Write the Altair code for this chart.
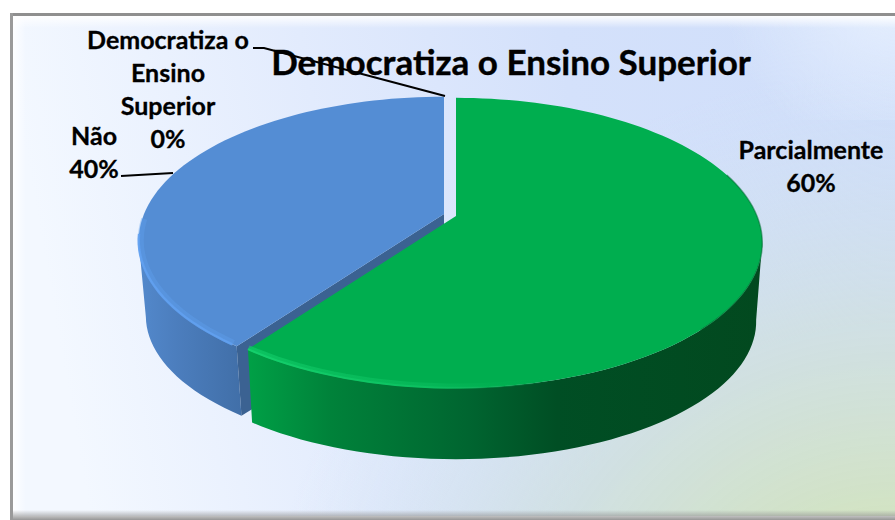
import math
import altair as alt
import pandas as pd

# Survey shares, in the order the pie is dealt clockwise from twelve o'clock
categories = ["Parcialmente", "Democratiza o Ensino Superior", "Não"]
shares = [60, 0, 40]
title_text = "Democratiza o Ensino Superior"
wrapped_names = ["Parcialmente", "Democratiza o\nEnsino\nSuperior", "Não"]

W, H = 895, 520
K = 0.185  # perspective strength of the tilted disc


def rim(deg, cx, cy, a, b):
    """Project a point of the disc's edge with a simple perspective divide."""
    t = math.radians(deg)
    d = 1 + K * math.cos(t)
    return cx + a * math.sin(t) / d, cy - b * math.cos(t) / d


def arc(start, end, disc):
    n = max(2, int(abs(end - start) / 2))
    return [rim(start + (end - start) * i / n, *disc) for i in range(n + 1)]


def path_chart(points, **mark):
    df = pd.DataFrame(points, columns=["x", "y"])
    df["v"] = range(len(df))
    return alt.Chart(df).mark_line(**mark).encode(
        x=alt.X("x:Q", scale=alt.Scale(domain=[0, W]), axis=None),
        y=alt.Y("y:Q", scale=alt.Scale(domain=[H, 0]), axis=None),
        order="v:Q",
    )


def face(points, fill):
    return path_chart(points + points[:1], fill=fill, stroke="transparent", strokeWidth=0)


def hgrad(stops):
    return alt.LinearGradient(
        gradient="linear", x1=0, x2=1, y1=0, y2=0,
        stops=[alt.GradientStop(offset=o, color=c) for o, c in stops],
    )


def vfade(a, b):
    return alt.LinearGradient(
        gradient="linear", x1=0, x2=0, y1=0, y2=1,
        stops=[alt.GradientStop(offset=0, color=a), alt.GradientStop(offset=1, color=b)],
    )


def frame_rect(x, x2, y, y2, fill):
    return alt.Chart(alt.Data(values=[{}])).mark_rect(fill=fill).encode(
        x=alt.value(x), x2=alt.value(x2), y=alt.value(y), y2=alt.value(y2)
    )


# Slice angles follow the cumulative shares
green_end = 360 * shares[0] / 100
blue_start = 360 * (shares[0] + shares[1]) / 100

# Exploded slices: upper and lower disc outlines
green_top = (456, 216, 301, 140)
green_low = (456, 296, 295, 133)
blue_top = (444, 214, 300, 139)
blue_low = (444, 291, 293, 131)
blue_inner = (444, 214, 298, 137.5)
green_inner = (456, 216, 300, 138.5)

# Backdrop
backdrop = frame_rect(10, W, 14, 516, alt.LinearGradient(
    gradient="linear", x1=0, y1=0.1, x2=1, y2=0,
    stops=[
        alt.GradientStop(offset=0, color="#f3f8ff"),
        alt.GradientStop(offset=0.33, color="#e2ebfd"),
        alt.GradientStop(offset=0.62, color="#d4e1fb"),
        alt.GradientStop(offset=1, color="#cfdefa"),
    ],
))
glow = frame_rect(10, W, 14, 516, alt.RadialGradient(
    gradient="radial", x1=1, y1=1, r1=0, x2=1, y2=1, r2=0.72,
    stops=[
        alt.GradientStop(offset=0, color="rgba(211,230,166,1)"),
        alt.GradientStop(offset=0.3, color="rgba(210,227,195,1)"),
        alt.GradientStop(offset=0.6, color="rgba(208,224,225,0.9)"),
        alt.GradientStop(offset=1, color="rgba(208,224,245,0)"),
    ],
))
corner = frame_rect(720, W, 14, 120, alt.RadialGradient(
    gradient="radial", x1=1, y1=0, r1=0, x2=1, y2=0, r2=1,
    stops=[
        alt.GradientStop(offset=0, color="rgba(235,243,255,0.9)"),
        alt.GradientStop(offset=1, color="rgba(235,243,255,0)"),
    ],
))

bevels = [
    frame_rect(10, W, 16, 28, vfade("rgba(255,255,255,0.95)", "rgba(255,255,255,0)")),
    frame_rect(13, 26, 14, 516, hgrad([(0, "rgba(255,255,255,0.85)"), (1, "rgba(255,255,255,0)")])),
    frame_rect(10, W, 510, 520, vfade("rgba(150,150,150,0)", "rgba(150,150,150,1)")),
    frame_rect(10, W, 13, 16, "#8f8f8f"),
    frame_rect(10, 13, 13, 520, "#9a9a9a"),
]

# Blue slice
blue_side = face(
    arc(259, green_end, blue_top) + arc(green_end, 259, blue_low),
    hgrad([(0, "#5389cc"), (0.35, "#4c7ebe"), (1, "#416fa8")]),
)
blue_cut = face(
    [(blue_top[0], blue_top[1]), rim(green_end, *blue_top),
     rim(green_end, *blue_low), (blue_low[0], blue_low[1])],
    "#3b6292",
)
blue_face = face(
    [(blue_top[0], blue_top[1])] + arc(blue_start, 360, blue_top),
    "#548dd4",
)
blue_glow = path_chart(arc(268, green_end + 1, blue_inner), stroke="#5f9fee", strokeWidth=6, opacity=0.4)
blue_shine = path_chart(arc(262, green_end + 1, blue_top), stroke="#60a0f0", strokeWidth=2.5, opacity=0.9)

# Green slice
green_side = face(
    arc(100, green_end, green_top) + arc(green_end, 100, green_low),
    hgrad([(0, "#00a046"), (0.16, "#00823a"), (0.43, "#006530"), (0.6, "#004e24"), (1, "#02491f")]),
)
green_face = face(
    [(green_top[0], green_top[1])] + arc(0, green_end, green_top),
    "#00ae4f",
)
green_glow = path_chart(
    arc(green_end, 165, green_inner),
    stroke=hgrad([(0, "rgba(20,208,108,0.6)"), (0.6, "rgba(12,192,96,0.5)"), (1, "rgba(0,174,79,0)")]),
    strokeWidth=5,
)
green_shine = path_chart(
    arc(green_end, 165, green_top),
    stroke=hgrad([(0, "#14d06c"), (0.6, "#0cc060"), (1, "rgba(0,174,79,0)")]),
    strokeWidth=2,
)
green_shade = path_chart(arc(72, 135, green_top), stroke="#00682f", strokeWidth=1.5, opacity=0.5)

# Title and slice labels
text_font = "Lato"
title_df = pd.DataFrame({"t": [title_text], "x": [511], "y": [64]})
title = alt.Chart(title_df).mark_text(
    font=text_font, fontSize=35, fontWeight="bold", color="black", stroke="black", strokeWidth=0.4,
    align="center", baseline="middle",
).encode(
    x=alt.X("x:Q", scale=alt.Scale(domain=[0, W]), axis=None),
    y=alt.Y("y:Q", scale=alt.Scale(domain=[H, 0]), axis=None),
    text="t:N",
)

label_df = pd.DataFrame({
    "t": [f"{n}\n{s}%" for n, s in zip(wrapped_names, shares)],
    "x": [811, 168, 94],
    "y": [151, 41, 137],
})
labels = alt.Chart(label_df).mark_text(
    font=text_font, fontSize=25, fontWeight="bold", color="black", stroke="black", strokeWidth=0.3,
    align="center", baseline="middle", lineBreak="\n", lineHeight=33,
).encode(
    x=alt.X("x:Q", scale=alt.Scale(domain=[0, W]), axis=None),
    y=alt.Y("y:Q", scale=alt.Scale(domain=[H, 0]), axis=None),
    text="t:N",
)

leader_zero = path_chart([(253, 48), (264, 48), (445, 96)], stroke="black", strokeWidth=2)
leader_blue = path_chart([(121, 176), (173, 173)], stroke="black", strokeWidth=2)

chart = alt.layer(
    backdrop, glow, corner, *bevels,
    blue_side, blue_cut, blue_face, blue_glow, blue_shine,
    green_side, green_face, green_shade, green_glow, green_shine,
    title, labels, leader_zero, leader_blue,
).properties(
    width=W, height=H, padding=0, autosize=alt.AutoSizeParams(type="none"), background="white",
).configure_view(stroke=None)

chart.save("out.html", embed_options={"renderer": "svg", "actions": False})
